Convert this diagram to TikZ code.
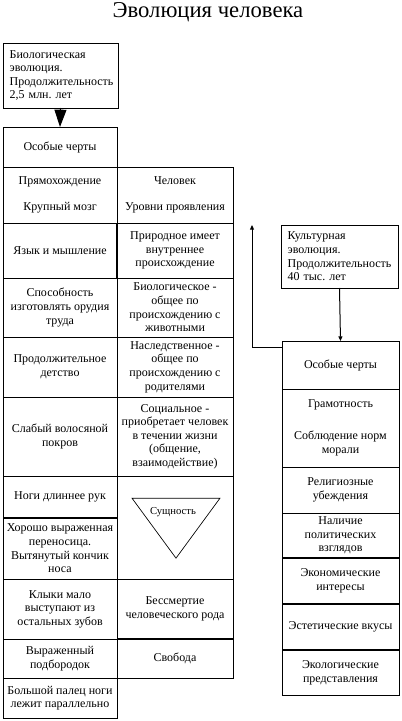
\documentclass[tikz,border=0pt]{standalone}
\usepackage{fontspec}
\setmainfont{Liberation Serif}
\usetikzlibrary{arrows.meta,positioning}
\tikzset{>=Stealth}
\frenchspacing

\begin{document}
\begin{tikzpicture}[
    x=0.75pt, y=-0.75pt,
    cell/.style={draw, line width=0.75pt, outer sep=0pt, inner sep=1pt, align=center, font=\fontsize{9}{10.2}\selectfont},
    lcell/.style={cell, minimum width=85.5pt},
    mcell/.style={cell, minimum width=87pt},
    rcell/.style={cell, minimum width=87.75pt},
    infobox/.style={draw, line width=0.75pt, outer sep=0pt, inner xsep=5pt, align=left, anchor=north west, font=\fontsize{9}{10.2}\selectfont},
    heavy/.style={line width=1.5pt},
    node distance=0pt
  ]
    \useasboundingbox (0,0) rectangle (402,721);
    \node[font=\fontsize{17}{19}\selectfont] (title) at (208,12) {Эволюция человека};

    \node[infobox, text width=76.25pt, minimum height=48.75pt] (bio) at (3,43) {Биологическая\\ эволюция.\\ Продолжительность\\ 2,5 млн. лет};

    % left column
    \node[lcell, minimum height=30pt, anchor=north west] (osob) at (3,127) {Особые черты};
    \node[lcell, minimum height=42pt, below=of osob] (pryam) {Прямохождение\\[9pt] Крупный мозг};
    \node[lcell, minimum height=41.25pt, below=of pryam] (yazyk) {Язык и мышление};
    \node[lcell, minimum height=44.25pt, below=of yazyk] (sposob) {Способность\\ изготовлять орудия\\ труда};
    \node[lcell, minimum height=45pt, below=of sposob] (detstvo) {Продолжительное\\ детство};
    \node[lcell, minimum height=59.25pt, below=of detstvo] (pokrov) {Слабый волосяной\\ покров};
    \node[lcell, minimum height=31.5pt, below=of pokrov] (nogi) {Ноги длиннее рук};
    \node[lcell, minimum height=45.75pt, below=of nogi] (nos) {Хорошо выраженная\\ переносица.\\ Вытянутый кончик\\ носа};
    \node[lcell, minimum height=45pt, below=of nos] (klyki) {Клыки мало\\ выступают из\\ остальных зубов};
    \node[lcell, minimum height=29.25pt, below=of klyki] (podbor) {Выраженный\\ подбородок};
    \node[lcell, minimum height=30pt, below=of podbor] (palec) {Большой палец ноги\\ лежит параллельно};

    % middle column
    \node[mcell, minimum height=42pt, right=of pryam] (chel) {Человек\\[9pt] Уровни проявления};
    \node[mcell, minimum height=41.25pt, below=of chel] (prir) {Природное имеет\\ внутреннее\\ происхождение};
    \node[mcell, minimum height=44.25pt, below=of prir] (biol) {Биологическое -\\ общее по\\ происхождению с\\ животными};
    \node[mcell, minimum height=45pt, below=of biol] (nasl) {Наследственное -\\ общее по\\ происхождению с\\ родителями};
    \node[mcell, minimum height=59.25pt, below=of nasl] (soc) {Социальное -\\ приобретает человек\\ в течении жизни\\ (общение,\\ взаимодействие)};
    \node[mcell, minimum height=77.25pt, below=of soc] (sush) {};
    \node[mcell, minimum height=45pt, below=of sush] (bess) {Бессмертие\\ человеческого рода};
    \node[mcell, minimum height=29.25pt, below=of bess] (svob) {Свобода};

    \draw[line width=0.5pt] ([shift={(-32.25pt,22pt)}]sush.center) -- ([shift={(33.75pt,22pt)}]sush.center)
      -- ([shift={(0.75pt,-23pt)}]sush.center) -- cycle;
    \node[font=\fontsize{8}{9}\selectfont] (sushlbl) at ([shift={(-1.5pt,11.5pt)}]sush.center) {Сущность};

    % right column
    \node[infobox, text width=77.75pt, minimum height=47.25pt] (kult) at (281,225) {Культурная\\ эволюция.\\ Продолжительность\\ 40 тыс. лет};
    \node[rcell, minimum height=36pt, anchor=north west] (rosob) at (282,341) {Особые черты};
    \node[rcell, minimum height=58.5pt, below=of rosob] (gramot) {Грамотность\\[14pt] Соблюдение норм\\ морали};
    \node[rcell, minimum height=34.5pt, below=of gramot] (relig) {Религиозные\\ убеждения};
    \node[rcell, minimum height=33.75pt, below=of relig] (polit) {Наличие\\ политических\\ взглядов};
    \node[rcell, minimum height=34.5pt, below=of polit] (ekon) {Экономические\\ интересы};
    \node[rcell, minimum height=34.5pt, below=of ekon] (estet) {Эстетические вкусы};
    \node[rcell, minimum height=33.75pt, below=of estet] (ekol) {Экологические\\ представления};

    \draw[heavy] (nogi.south west) -- (nogi.south east);
    \draw[heavy] (bess.south west) -- (bess.south east);
    \draw[heavy] (prir.north west) -- (prir.south west);
    \draw[heavy] (ekon.north west) -- (ekon.north east);
    \draw[heavy] (estet.north west) -- (estet.north east);
    \draw[heavy] (ekol.north west) -- (ekol.north east);

    % connectors
    \coordinate (ktop) at (252,225);
    \draw[-{Triangle[length=13pt,width=9pt]}, line width=0.75pt] (bio.south) -- (osob.north);
    \draw[-{Triangle[length=3.5pt,width=3pt]}, line width=0.75pt] (kult.south) -- (rosob.north);
    \draw[-{Triangle[length=3.5pt,width=3pt]}, line width=0.75pt] ([yshift=-4.5pt]rosob.north west) -| (ktop);
  \end{tikzpicture}
\end{document}
